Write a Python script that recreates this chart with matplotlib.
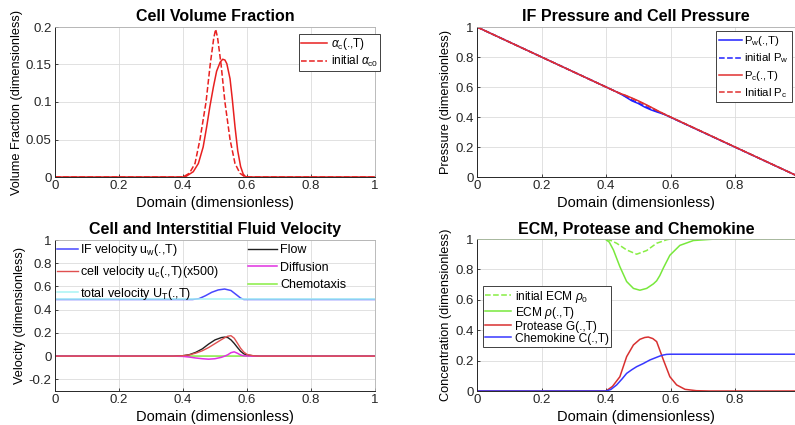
import matplotlib
matplotlib.use("Agg")
import matplotlib.pyplot as plt
from matplotlib.ticker import FuncFormatter, MultipleLocator

plt.rcParams["font.family"] = ["Liberation Sans", "DejaVu Sans"]
plt.rcParams["mathtext.fontset"] = "custom"
plt.rcParams["mathtext.rm"] = "Liberation Sans"
plt.rcParams["mathtext.it"] = "Liberation Sans:italic"
plt.rcParams["mathtext.bf"] = "Liberation Sans:bold"

# --- cell volume fraction ---
x_alpha_T = [0, 0.40, 0.41, 0.432, 0.448, 0.463, 0.474, 0.484, 0.495, 0.505, 0.516, 0.524,
             0.531, 0.537, 0.547, 0.554, 0.5625, 0.571, 0.58, 0.588, 0.594, 0.60, 1.0]
alpha_T = [0, 0, 0.001, 0.007, 0.018, 0.04, 0.067, 0.094, 0.12, 0.141, 0.153, 0.157,
           0.156, 0.151, 0.131, 0.104, 0.067, 0.035, 0.014, 0.004, 0.001, 0, 0]
x_alpha_0 = [0, 0.40, 0.42, 0.4375, 0.453, 0.472, 0.485, 0.496, 0.502, 0.508, 0.519,
             0.531, 0.547, 0.5625, 0.578, 0.594, 1.0]
alpha_0 = [0, 0, 0.005, 0.018, 0.05, 0.1, 0.15, 0.185, 0.197, 0.186, 0.15,
           0.1, 0.05, 0.018, 0.005, 0, 0]

# --- pressures ---
x_p = [0, 0.44, 0.46, 0.48, 0.50, 0.52, 0.54, 0.56, 0.58, 1.0]
pw_T = [1, 0.56, 0.535, 0.508, 0.49, 0.466, 0.447, 0.432, 0.418, 0]
pw_0 = [1, 0.56, 0.538, 0.513, 0.494, 0.472, 0.452, 0.436, 0.419, 0]
pc_T = [1, 0.56, 0.545, 0.527, 0.508, 0.487, 0.465, 0.442, 0.42, 0]
pc_0 = [1, 0.56, 0.543, 0.524, 0.505, 0.484, 0.463, 0.441, 0.42, 0]

# --- velocities ---
x_uw = [0, 0.43, 0.45, 0.47, 0.49, 0.51, 0.53, 0.55, 0.57, 0.58, 0.59, 1.0]
u_w = [0.488, 0.488, 0.495, 0.52, 0.55, 0.57, 0.578, 0.565, 0.522, 0.5, 0.488, 0.488]
x_ut = [0, 1.0]
u_T = [0.488, 0.488]
x_v = [0, 0.37, 0.40, 0.42, 0.44, 0.46, 0.48, 0.50, 0.52, 0.53, 0.54, 0.55, 0.56,
       0.57, 0.58, 0.59, 0.60, 0.62, 0.64, 1.0]
u_c = [0, 0, 0.004, 0.011, 0.026, 0.046, 0.074, 0.108, 0.142, 0.158, 0.172, 0.176, 0.155,
       0.112, 0.068, 0.035, 0.015, 0.003, 0, 0]
flow = [0, 0, 0.004, 0.013, 0.033, 0.062, 0.104, 0.140, 0.160, 0.164, 0.160, 0.140, 0.110,
        0.075, 0.042, 0.02, 0.01, 0.003, 0, 0]
diffusion = [0, 0, -0.002, -0.008, -0.016, -0.022, -0.026, -0.022, -0.01, 0, 0.012, 0.03, 0.037,
             0.025, 0.01, 0.003, 0.001, 0, 0, 0]
chemotaxis = [0, 0, 0.001, 0.001, 0.001, 0.001, 0.001, 0.001, 0.001, 0.001, 0.001, 0.001, 0.001,
              0.001, 0.001, 0.001, 0.001, 0.001, 0, 0]

# --- ECM, protease, chemokine ---
x_rho_T = [0, 0.397, 0.41, 0.423, 0.443, 0.464, 0.485, 0.505, 0.526, 0.547, 0.557, 0.567,
           0.578, 0.598, 0.629, 0.671, 0.74, 1.0]
rho_T = [1, 1, 0.98, 0.928, 0.818, 0.72, 0.675, 0.663, 0.675, 0.705, 0.725, 0.76,
         0.81, 0.893, 0.958, 0.99, 1, 1]
x_rho_0 = [0, 0.397, 0.415, 0.433, 0.464, 0.495, 0.526, 0.557, 0.575, 0.588, 0.60, 1.0]
rho_0 = [1, 1, 0.99, 0.972, 0.928, 0.90, 0.924, 0.972, 0.985, 0.995, 1, 1]
x_G = [0, 0.40, 0.42, 0.443, 0.464, 0.485, 0.505, 0.52, 0.531, 0.545, 0.557, 0.578,
       0.598, 0.619, 0.645, 0.68, 0.72, 1.0]
G = [0, 0, 0.03, 0.094, 0.226, 0.303, 0.34, 0.352, 0.355, 0.345, 0.325, 0.204,
     0.094, 0.04, 0.011, 0.002, 0, 0]
x_C = [0, 0.40, 0.415, 0.433, 0.45, 0.464, 0.48, 0.495, 0.515, 0.536, 0.555, 0.567,
       0.578, 0.588, 0.60, 1.0]
C = [0, 0, 0.01, 0.04, 0.08, 0.116, 0.14, 0.16, 0.18, 0.204, 0.22, 0.23,
     0.237, 0.241, 0.242, 0.242]

W, H = 795, 425
fig = plt.figure(figsize=(W / 100, H / 100), dpi=100)


def add_ax(left, top, right, bottom):
    return fig.add_axes([left / W, 1 - bottom / H, (right - left) / W, (bottom - top) / H])


def style(ax, title, ylabel):
    ax.set_title(title, fontsize=11.5, fontweight="bold", pad=4)
    ax.set_xlabel("Domain (dimensionless)", fontsize=10.5, labelpad=2.5)
    ax.set_ylabel(ylabel, fontsize=9.2, labelpad=2)
    ax.grid(True, color="#dcdcdc", lw=0.6)
    ax.set_axisbelow(True)
    ax.tick_params(direction="in", length=2.5, width=0.6, labelsize=9.5, pad=2.5,
                   colors="#262626")
    for s in ["left", "bottom"]:
        ax.spines[s].set_color("#262626")
        ax.spines[s].set_linewidth(0.7)
    for s in ["top", "right"]:
        ax.spines[s].set_color("#b0b0b0")
        ax.spines[s].set_linewidth(0.6)
    fmt = FuncFormatter(lambda v, p: f"{v:g}")
    ax.xaxis.set_major_formatter(fmt)
    ax.yaxis.set_major_formatter(fmt)
    ax.xaxis.set_major_locator(MultipleLocator(0.2))


def frame_legend(leg):
    fr = leg.get_frame()
    fr.set_edgecolor("#404040")
    fr.set_linewidth(0.7)
    fr.set_alpha(1)


# Cell Volume Fraction
ax1 = add_ax(55, 27, 375, 177)
ax1.plot(x_alpha_T, alpha_T, color="#e82020", lw=1.1, label=r"$\alpha_{\rm c}$(.,T)")
ax1.plot(x_alpha_0, alpha_0, color="#e82020", lw=1.1, ls="--", label=r"initial $\alpha_{\rm c0}$")
ax1.set_xlim(0, 1)
ax1.set_ylim(0, 0.2)
ax1.yaxis.set_major_locator(MultipleLocator(0.05))
style(ax1, "Cell Volume Fraction", "Volume Fraction (dimensionless)")
leg = ax1.legend(loc="upper right", bbox_to_anchor=(1.016, 0.955), fontsize=8.5,
                 fancybox=False, borderaxespad=0, handlelength=2.2, handletextpad=0.3,
                 borderpad=0.2, labelspacing=0.15)
frame_legend(leg)

# IF Pressure and Cell Pressure
ax2 = add_ax(477, 27, 795, 177)
ax2.plot(x_p, pw_T, color="#2020ff", lw=1.1, label=r"P$_{\rm w}$(.,T)")
ax2.plot(x_p, pw_0, color="#2020ff", lw=1.1, ls="--", label=r"initial P$_{\rm w}$")
ax2.plot(x_p, pc_T, color="#e03030", lw=1.1, label=r"P$_{\rm c}$(.,T)")
ax2.plot(x_p, pc_0, color="#e03030", lw=1.1, ls="--", label=r"Initial P$_{\rm c}$")
ax2.set_xlim(0, 0.986)
ax2.set_ylim(0, 1)
ax2.yaxis.set_major_locator(MultipleLocator(0.2))
style(ax2, "IF Pressure and Cell Pressure", "Pressure (dimensionless)")
leg = ax2.legend(loc="upper right", bbox_to_anchor=(0.99, 0.97), fontsize=8.2,
                 fancybox=False, borderaxespad=0, handlelength=2.0, handletextpad=0.2,
                 borderpad=0.25, labelspacing=0.28)
frame_legend(leg)

# Cell and Interstitial Fluid Velocity
ax3 = add_ax(55, 240, 375, 391)
h_uw, = ax3.plot(x_uw, u_w, color="#4848ff", lw=1.1, label=r"IF velocity u$_{\rm w}$(.,T)")
h_ut, = ax3.plot(x_ut, u_T, color="#a8f4f4", lw=1.1, label=r"total velocity U$_{\rm T}$(.,T)")
h_chem, = ax3.plot(x_v, chemotaxis, color="#88ee44", lw=1.1, label="Chemotaxis")
h_flow, = ax3.plot(x_v, flow, color="#202020", lw=1.0, label="Flow")
h_diff, = ax3.plot(x_v, diffusion, color="#e030e0", lw=1.1, label="Diffusion")
h_uc, = ax3.plot(x_v, u_c, color="#e05050", lw=1.0, label=r"cell velocity u$_{\rm c}$(.,T)(x500)")
ax3.set_xlim(0, 1)
ax3.set_ylim(-0.3, 1)
ax3.yaxis.set_major_locator(MultipleLocator(0.2))
style(ax3, "Cell and Interstitial Fluid Velocity", "Velocity (dimensionless)")
leg_a = ax3.legend(handles=[h_uw, h_uc, h_ut], loc="upper left", bbox_to_anchor=(-0.002, 1.0),
                   fontsize=9, frameon=False, borderaxespad=0, handlelength=1.7,
                   handletextpad=0.15, borderpad=0.2, labelspacing=0.45)
ax3.add_artist(leg_a)
ax3.legend(handles=[h_flow, h_diff, h_chem], loc="upper left", bbox_to_anchor=(0.595, 0.99),
           fontsize=9, frameon=False, borderaxespad=0, handlelength=2.3,
           handletextpad=0.3, borderpad=0.2, labelspacing=0.45)

# ECM, Protease and Chemokine
ax4 = add_ax(477, 239, 795, 391)
ax4.plot(x_rho_0, rho_0, color="#88ee44", lw=1.1, ls="--", label=r"initial ECM $\rho_0$")
ax4.plot(x_rho_T, rho_T, color="#78e83c", lw=1.1, label=r"ECM $\rho$(.,T)")
ax4.plot(x_G, G, color="#d83030", lw=1.1, label="Protease G(.,T)")
ax4.plot(x_C, C, color="#3838ff", lw=1.1, label="Chemokine C(.,T)")
ax4.set_xlim(0, 0.986)
ax4.set_ylim(0, 1)
ax4.yaxis.set_major_locator(MultipleLocator(0.2))
style(ax4, "ECM, Protease and Chemokine", "Concentration (dimensionless)")
leg = ax4.legend(loc="upper left", bbox_to_anchor=(0.018, 0.69), fontsize=8.6,
                 fancybox=False, borderaxespad=0, handlelength=2.2, handletextpad=0.3,
                 borderpad=0.2, labelspacing=0.0)
frame_legend(leg)

fig.savefig("out.png", dpi=100)
